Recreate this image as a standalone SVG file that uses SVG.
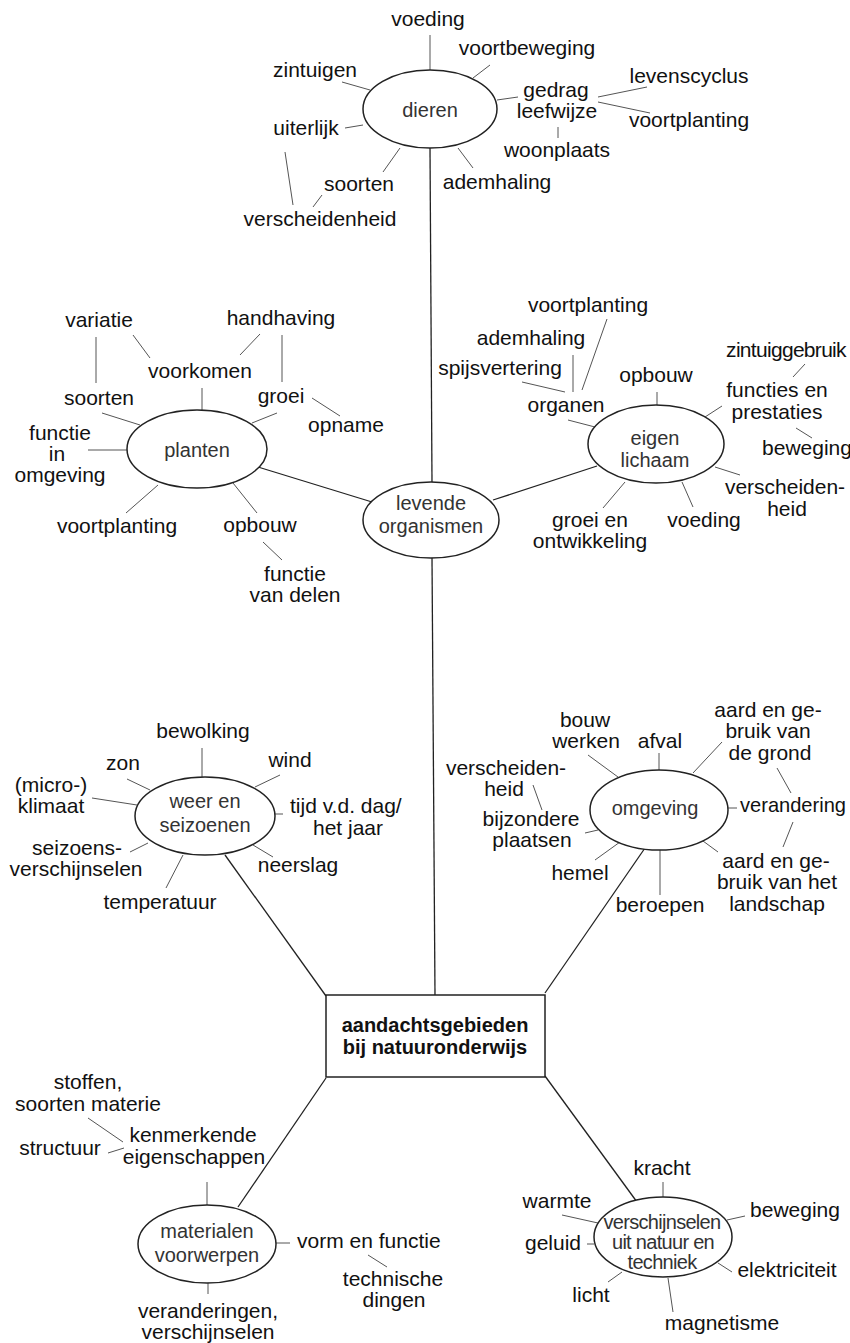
<svg xmlns="http://www.w3.org/2000/svg" width="850" height="1343" viewBox="0 0 850 1343">
  <style>
    .lbl { font-family: "Liberation Sans", Arial, sans-serif; font-size: 21px; fill: #111; text-anchor: middle; }
    .st { text-anchor: start; }
    .node-lbl { font-family: "Liberation Sans", Arial, sans-serif; font-size: 20px; fill: #333; text-anchor: middle; }
    .cond { letter-spacing: -0.7px; }
    .hub { font-family: "Liberation Sans", Arial, sans-serif; font-size: 20px; font-weight: bold; fill: #111; text-anchor: middle; }
    .oval { fill: #fff; stroke: #222; stroke-width: 1.5; }
    .box { fill: #fff; stroke: #222; stroke-width: 1.5; }
    .main { stroke: #222; stroke-width: 1.3; fill: none; }
    .leaf { stroke: #555; stroke-width: 1; fill: none; }
  </style>

  <rect width="850" height="1343" fill="#fff"/>

  <!-- connectors -->
  <g id="connectors">
    <!-- trunk lines -->
    <path class="main" d="M430 148 L432 482"/>
    <path class="main" d="M432 558 L435 995"/>
    <path class="main" d="M258 467 L372 502"/>
    <path class="main" d="M493 500 L597 466"/>
    <path class="main" d="M225 855 L326 996"/>
    <path class="main" d="M545 993 L645 848"/>
    <path class="main" d="M326 1078 L238 1207"/>
    <path class="main" d="M545 1076 L637 1202"/>

    <!-- dieren -->
    <path class="leaf" d="M430 35 L430 70"/>
    <path class="leaf" d="M473 78 L490 65"/>
    <path class="leaf" d="M342 82 L370 90"/>
    <path class="leaf" d="M345 128 L363 125"/>
    <path class="leaf" d="M497 100 L518 97"/>
    <path class="leaf" d="M598 97 L647 87"/>
    <path class="leaf" d="M598 102 L650 113"/>
    <path class="leaf" d="M558 127 L558 138"/>
    <path class="leaf" d="M458 148 L473 168"/>
    <path class="leaf" d="M383 172 L400 148"/>
    <path class="leaf" d="M285 152 L293 205"/>
    <path class="leaf" d="M313 207 L322 195"/>

    <!-- planten -->
    <path class="leaf" d="M88 450 L127 450"/>
    <path class="leaf" d="M102 413 L140 425"/>
    <path class="leaf" d="M202 388 L202 410"/>
    <path class="leaf" d="M277 413 L252 423"/>
    <path class="leaf" d="M312 398 L340 416"/>
    <path class="leaf" d="M96 337 L96 383"/>
    <path class="leaf" d="M133 335 L150 358"/>
    <path class="leaf" d="M260 334 L240 355"/>
    <path class="leaf" d="M282 335 L282 382"/>
    <path class="leaf" d="M126 513 L158 485"/>
    <path class="leaf" d="M257 513 L233 483"/>
    <path class="leaf" d="M263 542 L282 560"/>

    <!-- eigen lichaam -->
    <path class="leaf" d="M657 392 L657 407"/>
    <path class="leaf" d="M568 420 L595 427"/>
    <path class="leaf" d="M522 382 L565 392"/>
    <path class="leaf" d="M573 355 L573 392"/>
    <path class="leaf" d="M607 319 L582 390"/>
    <path class="leaf" d="M705 417 L722 406"/>
    <path class="leaf" d="M805 364 L793 377"/>
    <path class="leaf" d="M796 428 L812 438"/>
    <path class="leaf" d="M715 467 L740 475"/>
    <path class="leaf" d="M693 507 L682 482"/>
    <path class="leaf" d="M603 508 L625 482"/>

    <!-- weer en seizoenen -->
    <path class="leaf" d="M202 748 L202 777"/>
    <path class="leaf" d="M280 775 L255 787"/>
    <path class="leaf" d="M127 779 L150 790"/>
    <path class="leaf" d="M92 798 L137 805"/>
    <path class="leaf" d="M273 814 L283 814"/>
    <path class="leaf" d="M130 852 L148 843"/>
    <path class="leaf" d="M273 857 L253 845"/>
    <path class="leaf" d="M183 855 L166 888"/>

    <!-- omgeving -->
    <path class="leaf" d="M588 755 L618 777"/>
    <path class="leaf" d="M659 753 L659 770"/>
    <path class="leaf" d="M693 773 L722 742"/>
    <path class="leaf" d="M728 808 L737 808"/>
    <path class="leaf" d="M777 768 L791 793"/>
    <path class="leaf" d="M793 822 L783 847"/>
    <path class="leaf" d="M703 841 L718 852"/>
    <path class="leaf" d="M660 849 L660 895"/>
    <path class="leaf" d="M595 860 L620 842"/>
    <path class="leaf" d="M585 833 L598 830"/>
    <path class="leaf" d="M533 785 L542 810"/>

    <!-- materialen voorwerpen -->
    <path class="leaf" d="M88 1118 L123 1142"/>
    <path class="leaf" d="M108 1153 L124 1148"/>
    <path class="leaf" d="M207 1182 L207 1205"/>
    <path class="leaf" d="M275 1243 L290 1243"/>
    <path class="leaf" d="M368 1255 L387 1267"/>
    <path class="leaf" d="M208 1282 L208 1294"/>

    <!-- verschijnselen uit natuur en techniek -->
    <path class="leaf" d="M663 1182 L663 1198"/>
    <path class="leaf" d="M562 1215 L598 1223"/>
    <path class="leaf" d="M727 1220 L745 1216"/>
    <path class="leaf" d="M587 1244 L594 1244"/>
    <path class="leaf" d="M718 1263 L732 1272"/>
    <path class="leaf" d="M608 1282 L622 1272"/>
    <path class="leaf" d="M668 1278 L673 1312"/>
  </g>

  <!-- dieren -->
  <g id="dieren">
    <ellipse class="oval" cx="430" cy="109" rx="67" ry="39"/>
    <text class="node-lbl" x="430" y="117">dieren</text>
    <text class="lbl" x="428" y="26">voeding</text>
    <text class="lbl" x="527" y="55">voortbeweging</text>
    <text class="lbl" x="315" y="77">zintuigen</text>
    <text class="lbl" x="306" y="135">uiterlijk</text>
    <text class="lbl" x="556" y="97">gedrag</text>
    <text class="lbl" x="557" y="118">leefwijze</text>
    <text class="lbl" x="689" y="83">levenscyclus</text>
    <text class="lbl" x="689" y="127">voortplanting</text>
    <text class="lbl" x="557" y="157">woonplaats</text>
    <text class="lbl" x="497" y="189">ademhaling</text>
    <text class="lbl" x="359" y="191">soorten</text>
    <text class="lbl" x="320" y="226">verscheidenheid</text>
  </g>

  <!-- levende organismen -->
  <g id="levende-organismen">
    <ellipse class="oval" cx="431" cy="520" rx="68" ry="38"/>
    <text class="node-lbl" x="431" y="510">levende</text>
    <text class="node-lbl" x="431" y="533">organismen</text>
  </g>

  <!-- planten -->
  <g id="planten">
    <ellipse class="oval" cx="197" cy="449" rx="70" ry="39"/>
    <text class="node-lbl" x="197" y="457">planten</text>
    <text class="lbl" x="99" y="327">variatie</text>
    <text class="lbl" x="281" y="325">handhaving</text>
    <text class="lbl" x="200" y="378">voorkomen</text>
    <text class="lbl" x="99" y="405">soorten</text>
    <text class="lbl" x="281" y="403">groei</text>
    <text class="lbl" x="346" y="432">opname</text>
    <text class="lbl" x="60" y="440">functie</text>
    <text class="lbl" x="57" y="461">in</text>
    <text class="lbl" x="60" y="482">omgeving</text>
    <text class="lbl" x="117" y="533">voortplanting</text>
    <text class="lbl" x="260" y="532">opbouw</text>
    <text class="lbl" x="295" y="581">functie</text>
    <text class="lbl" x="295" y="602">van delen</text>
  </g>

  <!-- eigen lichaam -->
  <g id="eigen-lichaam">
    <ellipse class="oval" cx="656" cy="444" rx="68" ry="39"/>
    <text class="node-lbl" x="655" y="445">eigen</text>
    <text class="node-lbl" x="655" y="467">lichaam</text>
    <text class="lbl" x="588" y="312">voortplanting</text>
    <text class="lbl" x="531" y="345">ademhaling</text>
    <text class="lbl" x="500" y="375">spijsvertering</text>
    <text class="lbl" x="566" y="412">organen</text>
    <text class="lbl" x="656" y="382">opbouw</text>
    <text class="lbl cond" x="786" y="357">zintuiggebruik</text>
    <text class="lbl" x="777" y="397">functies en</text>
    <text class="lbl" x="777" y="419">prestaties</text>
    <text class="lbl" x="807" y="455">beweging</text>
    <text class="lbl" x="785" y="494">verscheiden-</text>
    <text class="lbl" x="787" y="516">heid</text>
    <text class="lbl" x="704" y="527">voeding</text>
    <text class="lbl" x="590" y="527">groei en</text>
    <text class="lbl" x="590" y="548">ontwikkeling</text>
  </g>

  <!-- weer en seizoenen -->
  <g id="weer-en-seizoenen">
    <ellipse class="oval" cx="205" cy="816" rx="70" ry="39"/>
    <text class="node-lbl" x="205" y="808">weer en</text>
    <text class="node-lbl" x="205" y="832">seizoenen</text>
    <text class="lbl" x="203" y="738">bewolking</text>
    <text class="lbl" x="290" y="767">wind</text>
    <text class="lbl" x="123" y="770">zon</text>
    <text class="lbl" x="51" y="792">(micro-)</text>
    <text class="lbl" x="51" y="813">klimaat</text>
    <text class="lbl st" x="290" y="813">tijd v.d. dag/</text>
    <text class="lbl st" x="313" y="835">het jaar</text>
    <text class="lbl" x="77" y="855">seizoens-</text>
    <text class="lbl" x="76" y="876">verschijnselen</text>
    <text class="lbl" x="298" y="872">neerslag</text>
    <text class="lbl" x="160" y="909">temperatuur</text>
  </g>

  <!-- omgeving -->
  <g id="omgeving">
    <ellipse class="oval" cx="659" cy="810" rx="69" ry="40"/>
    <text class="node-lbl" x="655" y="815">omgeving</text>
    <text class="lbl" x="585" y="727">bouw</text>
    <text class="lbl" x="586" y="748">werken</text>
    <text class="lbl" x="660" y="748">afval</text>
    <text class="lbl" x="768" y="717">aard en ge-</text>
    <text class="lbl" x="768" y="738">bruik van</text>
    <text class="lbl" x="770" y="760">de grond</text>
    <text class="lbl st" x="740" y="812" textLength="106" lengthAdjust="spacingAndGlyphs">verandering</text>
    <text class="lbl" x="776" y="868">aard en ge-</text>
    <text class="lbl" x="777" y="889">bruik van het</text>
    <text class="lbl" x="777" y="911">landschap</text>
    <text class="lbl" x="660" y="912">beroepen</text>
    <text class="lbl" x="580" y="880">hemel</text>
    <text class="lbl" x="531" y="826">bijzondere</text>
    <text class="lbl" x="532" y="847">plaatsen</text>
    <text class="lbl" x="506" y="775">verscheiden-</text>
    <text class="lbl" x="504" y="796">heid</text>
  </g>

  <!-- central box -->
  <g id="aandachtsgebieden">
    <rect class="box" x="326" y="995" width="219" height="82"/>
    <text class="hub" x="435" y="1032">aandachtsgebieden</text>
    <text class="hub" x="435" y="1054">bij natuuronderwijs</text>
  </g>

  <!-- materialen voorwerpen -->
  <g id="materialen-voorwerpen">
    <ellipse class="oval" cx="207" cy="1244" rx="69" ry="39"/>
    <text class="node-lbl" x="207" y="1238">materialen</text>
    <text class="node-lbl" x="207" y="1262">voorwerpen</text>
    <text class="lbl" x="88" y="1089">stoffen,</text>
    <text class="lbl" x="88" y="1111">soorten materie</text>
    <text class="lbl" x="193" y="1142">kenmerkende</text>
    <text class="lbl" x="194" y="1164">eigenschappen</text>
    <text class="lbl" x="60" y="1155">structuur</text>
    <text class="lbl st" x="297" y="1248">vorm en functie</text>
    <text class="lbl" x="393" y="1286">technische</text>
    <text class="lbl" x="394" y="1307">dingen</text>
    <text class="lbl" x="208" y="1318">veranderingen,</text>
    <text class="lbl" x="208" y="1339">verschijnselen</text>
  </g>

  <!-- verschijnselen uit natuur en techniek -->
  <g id="verschijnselen-natuur-techniek">
    <ellipse class="oval" cx="663" cy="1237" rx="69" ry="40"/>
    <text class="node-lbl cond" x="662" y="1229" font-size="19">verschijnselen</text>
    <text class="node-lbl cond" x="663" y="1249" font-size="19">uit natuur en</text>
    <text class="node-lbl cond" x="662" y="1269" font-size="19">techniek</text>
    <text class="lbl" x="662" y="1175">kracht</text>
    <text class="lbl" x="557" y="1208">warmte</text>
    <text class="lbl" x="795" y="1217">beweging</text>
    <text class="lbl" x="553" y="1250">geluid</text>
    <text class="lbl" x="787" y="1277">elektriciteit</text>
    <text class="lbl" x="591" y="1302">licht</text>
    <text class="lbl" x="722" y="1330">magnetisme</text>
  </g>
</svg>
